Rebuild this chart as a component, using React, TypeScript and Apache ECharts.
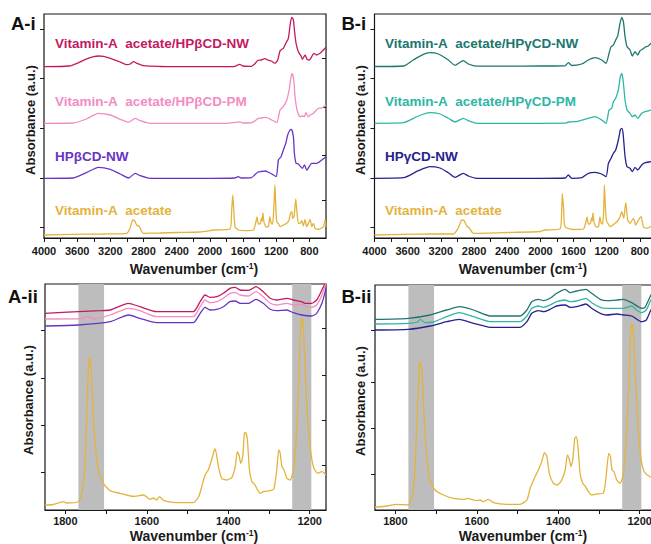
import React, { useEffect, useRef } from 'react';
import * as echarts from 'echarts';

const FONT = 'Liberation Sans, Arial, Helvetica, sans-serif';

// ---------- axis tick / label values ----------
const wideTickValues = [800, 1000, 1200, 1400, 1600, 1800, 2000, 2200, 2400, 2600, 2800, 3000, 3200, 3400, 3600, 3800, 4000];
const wideLabelValues = [800, 1200, 1600, 2000, 2400, 2800, 3200, 3600, 4000];
const narrowTickValues = [1200, 1300, 1400, 1500, 1600, 1700, 1800];
const narrowLabelValues = [1200, 1400, 1600, 1800];

const aiLeftTicks = [0.11, 0.6, 1.1, 1.6, 2.09];
const aiRightTicks = [0.38, 0.83, 1.31, 1.8];
const biLeftTicks = [0.11, 0.6, 1.1, 1.6, 2.09];
const aiiLeftTicks = [0.38, 0.85, 1.32, 1.8];
const aiiRightTicks = [0.45, 0.9, 1.35, 1.82];
const biiLeftTicks = [0.36, 0.82, 1.28, 1.8];

// shaded regions (wavenumber ranges)
const bandRanges = [[1768, 1705], [1243, 1196]];

// ---------- labels ----------
const aiLabels = ['Vitamin-A\u00a0 acetate/HPβCD-NW', 'Vitamin-A\u00a0 acetate/HPβCD-PM', 'HPβCD-NW', 'Vitamin-A\u00a0 acetate'];
const biLabels = ['Vitamin-A\u00a0 acetate/HPγCD-NW', 'Vitamin-A\u00a0 acetate/HPγCD-PM', 'HPγCD-NW', 'Vitamin-A\u00a0 acetate'];

// ---------- colours ----------
const cNWb = '#c4195f';
const cPMb = '#f28cc2';
const cCDb = '#6a33c4';
const cVA = '#e3b33d';
const cNWg = '#20766e';
const cPMg = '#2eb6a7';
const cCDg = '#25228f';

// ---------- A-i spectra [wavenumber, absorbance] ----------
const aiNW = [[4000,1.713],[3700,1.72],[3600,1.747],[3500,1.787],[3400,1.813],[3340,1.82],[3280,1.817],[3200,1.797],[3100,1.767],[3000,1.733],[2960,1.74],[2920,1.763],[2880,1.747],[2800,1.723],[2600,1.715],[2400,1.713],[2200,1.713],[2000,1.713],[1800,1.713],[1700,1.716],[1640,1.737],[1600,1.72],[1500,1.717],[1460,1.74],[1420,1.777],[1380,1.78],[1340,1.793],[1300,1.78],[1260,1.77],[1214,1.747],[1182,1.78],[1154,1.873],[1134,1.887],[1114,1.897],[1085,1.947],[1054,1.997],[1030,2.147],[1013,2.207],[993,2.18],[981,2.08],[961,1.947],[933,1.863],[901,1.82],[885,1.787],[852,1.83],[828,1.787],[800,1.78],[772,1.813],[748,1.847],[712,1.83],[672,1.847],[632,1.88],[600,1.907]];
const aiPM = [[4000,1.147],[3650,1.15],[3490,1.19],[3345,1.247],[3200,1.23],[3080,1.187],[2980,1.157],[2900,1.197],[2840,1.173],[2720,1.147],[2000,1.147],[1800,1.147],[1640,1.162],[1600,1.15],[1500,1.152],[1460,1.17],[1415,1.197],[1380,1.2],[1335,1.207],[1300,1.2],[1254,1.18],[1194,1.153],[1154,1.28],[1114,1.313],[1073,1.38],[1045,1.48],[1021,1.613],[1009,1.647],[989,1.58],[973,1.413],[949,1.28],[913,1.213],[885,1.22],[860,1.213],[844,1.253],[812,1.213],[790,1.23],[752,1.247],[692,1.297],[651,1.3],[600,1.33]];
const aiCD = [[4000,0.597],[3650,0.6],[3490,0.653],[3345,0.707],[3200,0.687],[3080,0.64],[2980,0.6],[2900,0.647],[2840,0.623],[2720,0.597],[2000,0.597],[1700,0.6],[1660,0.613],[1620,0.6],[1500,0.603],[1460,0.63],[1420,0.66],[1380,0.665],[1335,0.67],[1300,0.66],[1254,0.64],[1200,0.613],[1174,0.78],[1142,0.813],[1114,0.88],[1085,0.947],[1062,1.03],[1034,1.08],[1017,1.087],[993,1.013],[981,0.847],[961,0.747],[933,0.74],[885,0.697],[860,0.73],[832,0.68],[772,0.747],[712,0.747],[651,0.78],[600,0.813]];
const aiVA = [[4000,0.03],[3650,0.037],[3300,0.04],[3003,0.047],[2963,0.097],[2930,0.18],[2910,0.175],[2882,0.13],[2850,0.113],[2802,0.047],[2600,0.05],[2400,0.055],[2119,0.06],[1938,0.08],[1757,0.09],[1737,0.28],[1724,0.43],[1712,0.28],[1697,0.113],[1657,0.08],[1576,0.073],[1476,0.08],[1448,0.15],[1432,0.21],[1416,0.14],[1400,0.14],[1390,0.15],[1377,0.2],[1369,0.17],[1360,0.25],[1350,0.17],[1336,0.13],[1320,0.11],[1295,0.115],[1276,0.21],[1262,0.15],[1245,0.14],[1232,0.25],[1216,0.53],[1205,0.3],[1192,0.16],[1170,0.14],[1154,0.113],[1114,0.13],[1074,0.147],[1046,0.18],[1030,0.24],[1013,0.263],[1001,0.197],[985,0.213],[965,0.39],[949,0.247],[933,0.147],[913,0.147],[893,0.173],[873,0.12],[853,0.187],[833,0.113],[812,0.147],[792,0.187],[772,0.113],[752,0.147],[732,0.097],[692,0.087],[660,0.097],[631,0.113],[611,0.18],[600,0.113]];

// ---------- B-i spectra ----------
const biNW = [[4000,1.715],[3647,1.72],[3532,1.78],[3411,1.837],[3331,1.853],[3231,1.84],[3110,1.78],[3029,1.727],[2929,1.773],[2869,1.74],[2767,1.718],[2400,1.718],[2000,1.72],[1703,1.722],[1663,1.753],[1622,1.725],[1502,1.74],[1421,1.78],[1341,1.803],[1261,1.78],[1208,1.747],[1172,1.847],[1148,1.913],[1120,1.93],[1092,1.98],[1068,2.02],[1040,2.147],[1019,2.207],[999,2.163],[979,2.013],[955,1.913],[919,1.88],[891,1.82],[859,1.863],[826,1.83],[798,1.873],[770,1.887],[738,1.907],[698,1.92],[666,1.947],[640,1.95]];
const biPM = [[4000,1.147],[3650,1.153],[3471,1.22],[3331,1.253],[3211,1.24],[3110,1.197],[3029,1.16],[2929,1.197],[2869,1.173],[2767,1.147],[2000,1.147],[1700,1.148],[1663,1.16],[1582,1.163],[1421,1.197],[1341,1.213],[1261,1.18],[1208,1.147],[1172,1.28],[1140,1.297],[1120,1.363],[1092,1.397],[1060,1.48],[1036,1.613],[1019,1.647],[1003,1.58],[979,1.38],[955,1.28],[919,1.247],[891,1.213],[859,1.23],[826,1.197],[778,1.247],[738,1.263],[666,1.28],[640,1.29]];
const biCD = [[4000,0.597],[3650,0.603],[3471,0.673],[3331,0.713],[3211,0.7],[3110,0.653],[3029,0.607],[2929,0.647],[2869,0.62],[2767,0.597],[2000,0.597],[1700,0.6],[1663,0.63],[1622,0.597],[1500,0.603],[1421,0.647],[1341,0.657],[1261,0.64],[1208,0.613],[1180,0.747],[1148,0.797],[1120,0.847],[1092,0.88],[1060,0.98],[1036,1.08],[1019,1.097],[1003,1.047],[979,0.813],[955,0.713],[919,0.697],[891,0.663],[859,0.707],[826,0.68],[778,0.73],[738,0.753],[666,0.763],[640,0.77]];
const biVA = [[4000,0.03],[3650,0.037],[3300,0.04],[3050,0.04],[2990,0.1],[2948,0.18],[2920,0.175],[2888,0.12],[2856,0.1],[2808,0.047],[2400,0.055],[2000,0.065],[1944,0.08],[1763,0.09],[1743,0.28],[1735,0.447],[1719,0.28],[1703,0.113],[1600,0.085],[1482,0.09],[1454,0.15],[1438,0.21],[1422,0.14],[1406,0.14],[1396,0.15],[1383,0.2],[1375,0.17],[1366,0.25],[1356,0.17],[1342,0.13],[1326,0.11],[1300,0.115],[1282,0.21],[1268,0.15],[1251,0.14],[1238,0.25],[1228,0.53],[1216,0.3],[1202,0.17],[1180,0.14],[1160,0.113],[1100,0.147],[1060,0.18],[1040,0.213],[1019,0.263],[995,0.197],[971,0.353],[947,0.18],[919,0.147],[879,0.197],[851,0.13],[818,0.18],[786,0.213],[758,0.113],[718,0.097],[666,0.113],[640,0.11]];

// ---------- A-ii spectra ----------
const aiiNW = [[1850,1.967],[1768,1.983],[1715,1.993],[1690,2.0],[1645,2.067],[1617,2.033],[1576,1.983],[1486,1.983],[1469,2.083],[1457,2.15],[1445,2.127],[1428,2.133],[1412,2.167],[1396,2.217],[1383,2.227],[1371,2.2],[1350,2.197],[1332,2.233],[1314,2.183],[1297,2.117],[1281,2.1],[1256,2.117],[1240,2.1],[1220,2.083],[1211,2.067],[1195,2.067],[1183,2.1],[1170,2.2],[1162,2.267],[1160,2.3]];
const aiiPM = [[1850,1.91],[1760,1.913],[1744,1.933],[1730,1.91],[1690,1.95],[1645,2.017],[1617,1.993],[1576,1.933],[1486,1.933],[1469,2.033],[1457,2.1],[1445,2.073],[1428,2.083],[1412,2.117],[1396,2.167],[1383,2.173],[1371,2.15],[1350,2.14],[1332,2.183],[1314,2.133],[1297,2.067],[1281,2.05],[1256,2.067],[1240,2.05],[1220,2.06],[1211,2.04],[1195,2.027],[1183,2.05],[1170,2.15],[1160,2.27]];
const aiiCD = [[1850,1.84],[1768,1.85],[1690,1.883],[1645,1.95],[1617,1.917],[1576,1.873],[1486,1.873],[1469,1.967],[1457,2.027],[1445,2.0],[1428,2.007],[1412,2.033],[1396,2.083],[1383,2.09],[1371,2.067],[1350,2.067],[1332,2.107],[1314,2.067],[1297,2.007],[1281,1.993],[1256,2.0],[1240,1.973],[1220,1.95],[1195,1.94],[1183,1.967],[1170,2.067],[1160,2.217]];
const aiiVA = [[1850,0.05],[1830,0.055],[1805,0.083],[1797,0.07],[1768,0.083],[1760,0.167],[1754,0.333],[1749,0.733],[1745,1.233],[1742,1.517],[1739.5,1.527],[1737,1.433],[1733,1.067],[1727,0.667],[1719,0.4],[1707,0.267],[1690,0.193],[1666,0.167],[1641,0.14],[1629,0.137],[1608,0.15],[1592,0.107],[1584,0.12],[1576,0.1],[1569,0.133],[1559,0.097],[1535,0.077],[1486,0.073],[1473,0.13],[1465,0.233],[1457,0.35],[1449,0.4],[1441,0.5],[1434,0.6],[1432,0.61],[1424,0.433],[1416,0.317],[1404,0.3],[1391,0.327],[1383,0.433],[1377.6,0.583],[1373.5,0.55],[1369.4,0.467],[1364.5,0.533],[1360.4,0.767],[1357,0.773],[1353,0.7],[1348,0.4],[1342,0.283],[1337,0.267],[1330,0.217],[1322,0.167],[1314,0.183],[1297,0.193],[1288,0.21],[1281,0.4],[1276,0.6],[1273,0.58],[1268,0.433],[1263,0.4],[1256,0.317],[1248,0.3],[1240,0.4],[1232,0.8],[1226,1.4],[1222,1.867],[1219,1.917],[1215.5,1.817],[1211,1.4],[1206,0.967],[1199,0.633],[1191,0.433],[1181,0.367],[1170,0.383],[1160,0.35]];

// ---------- B-ii spectra ----------
const biiNW = [[1850,1.907],[1768,1.917],[1715,1.95],[1674,2.0],[1643,2.033],[1608,2.0],[1567,1.94],[1494,1.94],[1477,2.0],[1465,2.083],[1449,2.107],[1436,2.093],[1420,2.117],[1404,2.167],[1383,2.207],[1371,2.173],[1355,2.19],[1332,2.207],[1318,2.167],[1297,2.107],[1281,2.093],[1256,2.1],[1240,2.107],[1219.5,2.073],[1195,2.017],[1187,2.027],[1174.5,2.133],[1160,2.25]];
const biiPM = [[1850,1.86],[1768,1.867],[1745,1.88],[1739,1.907],[1727,1.873],[1707,1.88],[1674,1.933],[1643,1.973],[1608,1.933],[1567,1.883],[1494,1.883],[1477,1.94],[1465,2.017],[1449,2.04],[1436,2.027],[1420,2.05],[1404,2.083],[1383,2.1],[1371,2.083],[1355,2.09],[1332,2.117],[1318,2.073],[1297,2.027],[1281,2.017],[1256,2.017],[1240,2.017],[1219.5,2.04],[1208,2.0],[1195,1.973],[1184,2.0],[1174.5,2.083],[1160,2.2]];
const biiCD = [[1850,1.8],[1768,1.807],[1715,1.84],[1674,1.883],[1643,1.907],[1608,1.867],[1567,1.827],[1494,1.827],[1477,1.883],[1465,1.967],[1449,1.993],[1436,1.983],[1420,2.007],[1404,2.04],[1383,2.05],[1371,2.027],[1355,2.033],[1332,2.06],[1318,2.017],[1297,1.967],[1281,1.95],[1256,1.96],[1240,1.95],[1219.5,1.94],[1195,1.883],[1184,1.9],[1174.5,1.983],[1160,2.1]];
const biiVA = [[1850,0.027],[1821,0.04],[1797,0.057],[1768,0.05],[1757,0.167],[1752,0.4],[1746,1.0],[1741,1.433],[1738.6,1.483],[1735,1.4],[1729.6,0.933],[1723,0.533],[1715,0.3],[1702.5,0.2],[1682,0.15],[1657.5,0.117],[1629,0.107],[1625,0.117],[1600,0.093],[1592,0.1],[1584,0.083],[1572,0.107],[1559,0.073],[1526,0.057],[1494,0.057],[1477,0.1],[1469,0.217],[1457,0.333],[1449,0.4],[1440.6,0.483],[1434,0.573],[1428,0.537],[1422,0.367],[1412,0.267],[1402,0.25],[1391.5,0.3],[1383,0.4],[1377.5,0.55],[1372.6,0.5],[1369,0.433],[1364.4,0.5],[1359.5,0.717],[1356,0.733],[1352,0.65],[1346.4,0.367],[1340,0.267],[1334,0.24],[1326,0.183],[1318,0.15],[1305.5,0.16],[1289,0.17],[1282.6,0.333],[1276,0.567],[1272,0.537],[1268,0.4],[1263,0.383],[1256.4,0.3],[1248,0.267],[1240,0.367],[1232,0.8],[1226,1.333],[1222,1.8],[1219,1.86],[1215.5,1.767],[1210.5,1.333],[1205,0.9],[1197.5,0.533],[1189,0.383],[1174.5,0.333],[1160,0.32]];

const AX = '#161616';

function xAxisFor(gridIndex: number, wide: boolean) {
  return {
    gridIndex,
    type: 'value',
    min: wide ? 600 : 1160,
    max: wide ? 4000 : 1850,
    inverse: true,
    axisLine: { show: true, lineStyle: { color: AX, width: 1.2 } },
    axisTick: { show: true, inside: false, length: 4, customValues: wide ? wideTickValues : narrowTickValues, lineStyle: { color: AX, width: 1 } },
    axisLabel: {
      show: true,
      customValues: wide ? wideLabelValues : narrowLabelValues,
      formatter: (v: number) => String(v),
      margin: wide ? 7 : 5,
      fontSize: 11,
      fontWeight: 'bold',
      fontFamily: FONT,
      color: '#1a1a1a',
    },
    splitLine: { show: false },
  };
}

function yAxisFor(gridIndex: number, max: number, ticks: number[], right: boolean) {
  return {
    gridIndex,
    type: 'value',
    min: 0,
    max,
    position: right ? 'right' : 'left',
    axisLine: { show: false },
    axisTick: { show: true, inside: right, length: 4, customValues: ticks, lineStyle: { color: AX, width: 1 } },
    axisLabel: { show: false },
    splitLine: { show: false },
  };
}

function spectrum(name: string, data: number[][], color: string, xi: number, yi: number, extra: any = {}) {
  return {
    name,
    type: 'line',
    xAxisIndex: xi,
    yAxisIndex: yi,
    data,
    showSymbol: false,
    symbol: 'none',
    smooth: 0.2,
    clip: true,
    z: 3,
    lineStyle: { color, width: 1.3 },
    itemStyle: { color },
    ...extra,
  };
}

function bands() {
  return {
    silent: true,
    itemStyle: { color: '#bdbdbd' },
    data: bandRanges.map((r) => [{ xAxis: r[0] }, { xAxis: r[1] }]),
  };
}

function label(text: string, x: number, y: number, color: string, size: number) {
  return {
    type: 'text',
    x,
    y,
    z: 10,
    style: { text, fill: color, fontSize: size, fontWeight: 'bold', fontFamily: FONT, align: 'left', verticalAlign: 'middle' },
  };
}

function yName(x: number, y: number) {
  return {
    type: 'text',
    x,
    y,
    rotation: Math.PI / 2,
    z: 10,
    style: { text: 'Absorbance (a.u.)', fill: '#1a1a1a', fontSize: 13, fontWeight: 'bold', fontFamily: FONT, align: 'center', verticalAlign: 'middle' },
  };
}

function xName(x: number, y: number) {
  return {
    type: 'text',
    x,
    y,
    z: 10,
    style: {
      text: '{n|Wavenumber (cm}{s|-1}{n|)}',
      align: 'center',
      verticalAlign: 'middle',
      rich: {
        n: { fontSize: 14, fontWeight: 'bold', fontFamily: FONT, fill: '#1a1a1a', lineHeight: 15 },
        s: { fontSize: 8.5, fontWeight: 'bold', fontFamily: FONT, fill: '#1a1a1a', verticalAlign: 'top', lineHeight: 15 },
      },
    },
  };
}

export default function App() {
  const ref = useRef<HTMLDivElement>(null);
  useEffect(() => {
    if (!ref.current) return;
    const chart = echarts.init(ref.current, null, { renderer: 'svg' });
    const grids = [
      { left: 44, top: 14, width: 282, height: 224 },
      { left: 374.5, top: 14, width: 282, height: 224 },
      { left: 45, top: 284, width: 281, height: 226 },
      { left: 375, top: 285, width: 281, height: 225 },
    ];
    const option: any = {
      animation: false,
      backgroundColor: '#ffffff',
      grid: grids.map((g) => ({
        ...g,
        show: true,
        containLabel: false,
        outerBoundsMode: 'none',
        borderColor: AX,
        borderWidth: 1.2,
        backgroundColor: 'rgba(0,0,0,0)',
      })),
      xAxis: [xAxisFor(0, true), xAxisFor(1, true), xAxisFor(2, false), xAxisFor(3, false)],
      yAxis: [
        yAxisFor(0, 2.24, aiLeftTicks, false),
        yAxisFor(0, 2.24, aiRightTicks, true),
        yAxisFor(1, 2.24, biLeftTicks, false),
        yAxisFor(2, 2.26, aiiLeftTicks, false),
        yAxisFor(2, 2.26, aiiRightTicks, true),
        yAxisFor(3, 2.25, biiLeftTicks, false),
      ],
      series: [
        spectrum('A-i NW', aiNW, cNWb, 0, 0),
        spectrum('A-i PM', aiPM, cPMb, 0, 0),
        spectrum('A-i HPbCD', aiCD, cCDb, 0, 0),
        spectrum('A-i VA', aiVA, cVA, 0, 0),
        spectrum('B-i NW', biNW, cNWg, 1, 2),
        spectrum('B-i PM', biPM, cPMg, 1, 2),
        spectrum('B-i HPgCD', biCD, cCDg, 1, 2),
        spectrum('B-i VA', biVA, cVA, 1, 2),
        spectrum('A-ii VA', aiiVA, cVA, 2, 3, { markArea: bands() }),
        spectrum('A-ii NW', aiiNW, cNWb, 2, 3),
        spectrum('A-ii PM', aiiPM, cPMb, 2, 3),
        spectrum('A-ii HPbCD', aiiCD, cCDb, 2, 3),
        spectrum('B-ii VA', biiVA, cVA, 3, 5, { markArea: bands() }),
        spectrum('B-ii NW', biiNW, cNWg, 3, 5),
        spectrum('B-ii PM', biiPM, cPMg, 3, 5),
        spectrum('B-ii HPgCD', biiCD, cCDg, 3, 5),
      ],
      graphic: [
        label(aiLabels[0], 55, 43, cNWb, 13.5),
        label(aiLabels[1], 55, 101.5, cPMb, 13.5),
        label(aiLabels[2], 55, 156.5, cCDb, 13.5),
        label(aiLabels[3], 55, 210.5, cVA, 13.5),
        label(biLabels[0], 385, 43, cNWg, 13.5),
        label(biLabels[1], 385, 101.5, cPMg, 13.5),
        label(biLabels[2], 385, 156.5, cCDg, 13.5),
        label(biLabels[3], 385, 210.5, cVA, 13.5),
        label('A-i', 11, 23.5, '#111', 18.5),
        label('B-i', 341.5, 23.5, '#111', 18.5),
        label('A-ii', 8, 296.5, '#111', 18.5),
        label('B-ii', 341.5, 296.5, '#111', 18.5),
        yName(30.5, 120),
        yName(360, 120),
        yName(28, 400),
        yName(360, 401),
        xName(194, 269),
        xName(523, 269),
        xName(194, 536),
        xName(523, 536),
      ],
    };
    chart.setOption(option);
    return () => chart.dispose();
  }, []);
  return <div ref={ref} style={{ position: 'fixed', left: 0, top: 0, width: 651, height: 544 }} />;
}
